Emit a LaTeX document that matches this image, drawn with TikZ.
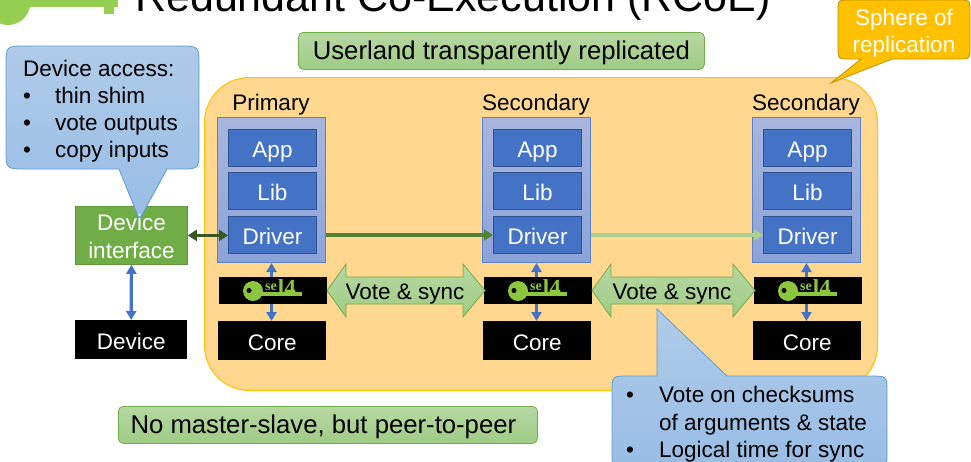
\documentclass[tikz,border=0pt]{standalone}
\usepackage{fontspec}
\setmainfont{Liberation Sans}
\newfontfamily\logofont{Liberation Serif}
\usetikzlibrary{arrows.meta,calc}
\newcommand{\fsz}[1]{\fontsize{#1}{#1}\selectfont}
\newcommand{\bul}[1]{\makebox[#1][l]{•}}
\tikzset{
  x=1pt,y=-1pt,
  lbl/.style={inner sep=0pt,font=\fsz{22.5},text=black},
  box/.style={anchor=north west,inner sep=0pt,align=center,font=\fsz{22.5},text height=19pt,text depth=0pt},
  appbox/.style={box,minimum width=88pt,minimum height=37pt,fill=appblue,draw=appedge,line width=1pt,text=white},
  blackbox/.style={box,minimum width=108pt,minimum height=39pt,fill=black,text=white},
  kernelbox/.style={box,minimum width=108pt,minimum height=27pt,fill=black},
  outerbox/.style={box,minimum width=108pt,minimum height=145pt,top color=outertop,bottom color=outerbot,draw=outeredge,line width=1pt},
  greennote/.style={box,top color=greentop,bottom color=greenbot,draw=greenedge,line width=.8pt,rounded corners=5pt,font=\fsz{25.7},text height=18pt},
  blueshape/.style={top color=bluetop,bottom color=bluebot,draw=blueedge,line width=.8pt},
  voteshape/.style={top color=greentop,bottom color=greenbot,draw=greenedge,line width=.8pt},
  updown/.style={{Triangle[length=9pt,width=10pt]}-{Triangle[length=9pt,width=10pt]},line width=3.2pt,draw=linkblue},
  rep/.style={-{Triangle[length=9pt,width=11pt]},line width=3.5pt},
}
\definecolor{appblue}{HTML}{4472C4}
\definecolor{appedge}{HTML}{2F528F}
\definecolor{linkblue}{HTML}{4472C4}
\definecolor{outertop}{HTML}{A8B6DE}
\definecolor{outerbot}{HTML}{8CA3D9}
\definecolor{outeredge}{HTML}{5B84C8}
\definecolor{greentop}{HTML}{B7D7A3}
\definecolor{greenbot}{HTML}{9FCC85}
\definecolor{greenedge}{HTML}{70AD47}
\definecolor{bluetop}{HTML}{B0CBE9}
\definecolor{bluebot}{HTML}{98BDE5}
\definecolor{blueedge}{HTML}{5B9BD5}
\definecolor{spherefill}{HTML}{FFD78F}
\definecolor{logogreen}{HTML}{8CC63F}
\definecolor{topgreen}{HTML}{96CE52}
\newcommand{\column}[4]{% id, outer x, label, kernel/core x
  \node[outerbox] (outer#1) at (#2,117) {};
  \node[lbl,anchor=base] (head#1) at ($(outer#1.north)+(-0.5,-7)$) {#3};
  \node[appbox] (app#1) at (#2+11,129) {App};
  \node[appbox] (lib#1) at (#2+11,172) {Lib};
  \node[appbox] (drv#1) at (#2+11,216) {Driver};
  \node[blackbox] (core#1) at (#4-1,321) {Core};
  \draw[updown] (outer#1.south) -- (outer#1.south |- core#1.north);
  \node[kernelbox] (sel#1) at (#4,277) {};
  \fill[logogreen] (#4+34,291) circle (10);
  \fill[black] (#4+30,290.5) circle (2.5);
  \fill[logogreen] (#4+42,292) rectangle (#4+83,295.5);
  \node[anchor=base west,inner sep=0pt,text=logogreen,font=\logofont\bfseries] (logo#1) at (#4+46,295) {\raisebox{5pt}{\fsz{14}se}\hspace{1pt}\fsz{23}l4};
}
\newcommand{\votearrow}[2]{% left tip, right tip
  \path[voteshape] (#1,290.5) -- (#1+19,264) -- (#1+19,277) -- (#2-22,277) -- (#2-22,264) -- (#2,290.5)
    -- (#2-22,317) -- (#2-22,304) -- (#1+19,304) -- (#1+19,317) -- cycle;
}
\begin{document}
\begin{tikzpicture}
\useasboundingbox (0,0) rectangle (971,461);
\clip (0,0) rectangle (971,461);
% top-left logo
\fill[topgreen] (8,2.7) circle (22.3);
\fill[topgreen] (20,-2) rectangle (118,6.5);
\fill[topgreen] (104,6) rectangle (114,14);
% title
\node[anchor=base west,inner sep=0pt,font=\fsz{43}] (title) at (135,11) {Redundant Co-Execution (RCoE)};
% sphere
\node[anchor=north west,inner sep=0pt,minimum width=673pt,minimum height=313pt,fill=spherefill,draw={rgb,255:red,255;green,192;blue,0},line width=1pt,rounded corners=45pt] (sphere) at (204,77) {};
% userland
\node[greennote,minimum width=406pt,minimum height=37pt] (userland) at (298,32) {Userland transparently replicated};
\node[greennote,minimum width=419pt,minimum height=37pt] (peer) at (118,406) {No master-slave, but peer-to-peer\kern 9pt};
% columns
\column{a}{217}{Primary}{219}
\column{b}{482}{Secondary}{484}
\column{c}{752}{Secondary}{754}
% vote arrows
\votearrow{327}{485}
\votearrow{592}{755}
\node[lbl,anchor=base] (vote1) at (405,299) {Vote \& sync};
\node[lbl,anchor=base] (vote2) at (672,299) {Vote \& sync};
% device
\node[box,minimum width=112pt,minimum height=58pt,fill={rgb,255:red,112;green,173;blue,71},draw={rgb,255:red,96;green,150;blue,60},line width=.8pt] (iface) at (75,206) {};
\node[blackbox,minimum width=112pt] (dev) at (75,320) {Device};
\draw[updown] (iface.south) -- (dev.north);
% replication arrows
\draw[{Triangle[length=9pt,width=11pt]}-{Triangle[length=9pt,width=11pt]},line width=3.5pt,draw={rgb,255:red,56;green,87;blue,35}] (iface.east) -- (iface.east -| drva.west);
\draw[rep,draw={rgb,255:red,84;green,130;blue,53}] (outera.east |- drva.west) -- (drvb.west);
\draw[rep,draw={rgb,255:red,169;green,209;blue,142}] (outerb.east |- drvb.west) -- (drvc.west);
% device callout
\path[blueshape] (119,169) -- (139.5,219.5) -- (167,169) -- (180,169)
  .. controls (199,169) .. (199,150) -- (199,66) .. controls (199,46) .. (179,46)
  -- (26,46) .. controls (6,46) .. (6,66) -- (6,150) .. controls (6,169) .. (26,169) -- cycle;
\node[anchor=center,inner sep=0pt,align=center,text=white,font=\fsz{22.5},execute at begin node={\setlength{\baselineskip}{28pt}}] (ifacetext) at ($(iface.center)+(0,1)$) {Device\\interface};
\node[anchor=north west,inner sep=0pt,align=left,font=\fsz{22.5},execute at begin node={\setlength{\baselineskip}{27pt}}] (devnote) at (23,60) {Device access:\\\bul{32pt}thin shim\\\bul{32pt}vote outputs\\\bul{32pt}copy inputs};
% sphere callout
\path[draw={rgb,255:red,191;green,144;blue,0},fill={rgb,255:red,255;green,192;blue,0},line width=.8pt]
  (861,59) -- (831,83) -- (892,59) -- (958,59) .. controls (970,59) .. (970,47) -- (970,12) .. controls (970,0) .. (958,0)
  -- (850,0) .. controls (838,0) .. (838,12) -- (838,47) .. controls (838,59) .. (850,59) -- cycle;
\node[inner sep=0pt,align=center,text=white,font=\fsz{22.5},execute at begin node={\setlength{\baselineskip}{27pt}}] (spherenote) at (904,33.5) {Sphere of\\replication};
% bottom callout
\path[blueshape] (657,376) -- (657,309) -- (727,376) -- (870,376) .. controls (887,376) .. (887,393)
  -- (887,452) .. controls (887,469) .. (870,469) -- (629,469) .. controls (612,469) .. (612,452)
  -- (612,393) .. controls (612,376) .. (629,376) -- cycle;
\node[anchor=north west,inner sep=0pt,align=left,font=\fsz{22.5},execute at begin node={\setlength{\baselineskip}{27.5pt}}] (votenote) at (626,386) {\bul{33pt}Vote on checksums\\\hspace*{33pt}of arguments \& state\\\bul{33pt}Logical time for sync};
\end{tikzpicture}
\end{document}
